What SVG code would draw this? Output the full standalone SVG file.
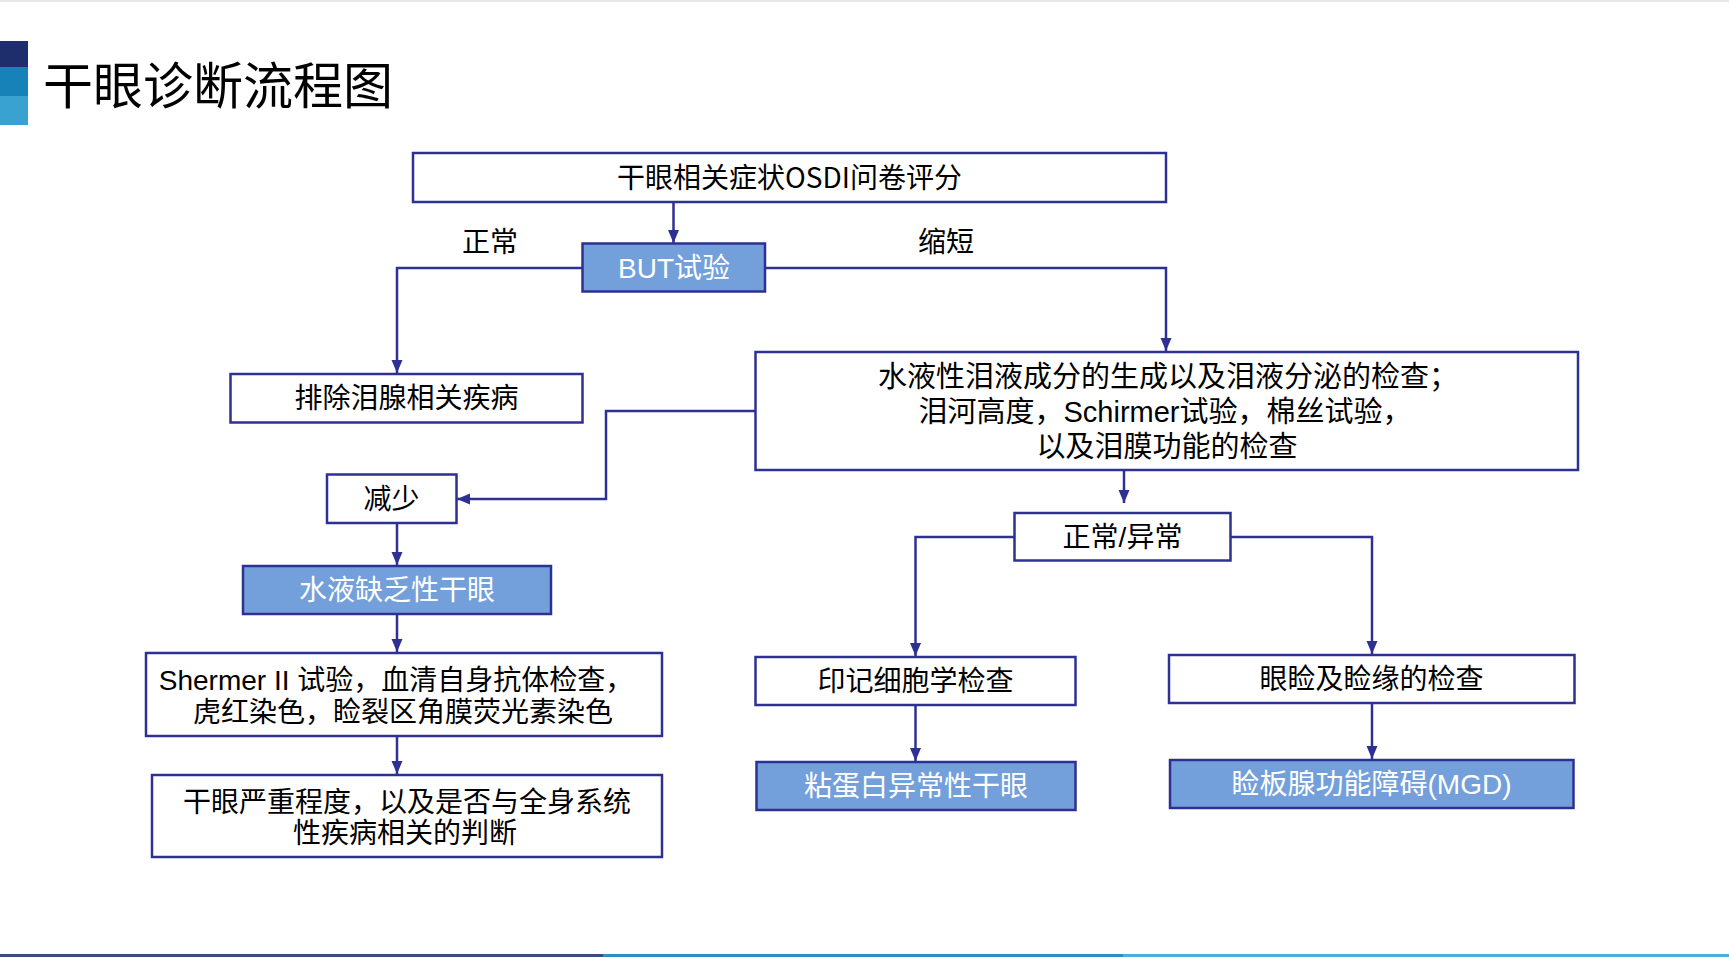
<svg xmlns="http://www.w3.org/2000/svg" width="1729" height="957" viewBox="0 0 1729 957">
<defs>
<style>
.box{fill:#ffffff;stroke:#2e3192;stroke-width:2.5}
.hl{fill:#739fdb;stroke:#2e3192;stroke-width:2.5}
.t{font-family:"Liberation Sans","Noto Sans CJK SC",sans-serif;font-size:28px;fill:#000000;text-anchor:middle}
.tc{font-family:"Noto Sans CJK SC",sans-serif;font-size:28px;fill:#000000;text-anchor:middle}
.big{font-size:29px}
.w{fill:#ffffff}
.c{fill:none;stroke:#2e3192;stroke-width:2.5}
</style>
<marker id="ah" markerUnits="userSpaceOnUse" markerWidth="14" markerHeight="14" viewBox="0 0 14 14" refX="13" refY="7" orient="auto">
<path d="M0,1.5 L13,7 L0,12.5 Z" fill="#2e3192"/>
</marker>
</defs>
<rect x="0" y="0" width="1729" height="957" fill="#ffffff"/>
<line x1="0" y1="1" x2="1729" y2="1" stroke="#e8e8e8" stroke-width="2"/>
<g id="title">
<rect x="0" y="41" width="28" height="26" fill="#1e2e6c"/>
<rect x="0" y="67" width="28" height="29" fill="#1782b8"/>
<rect x="0" y="96" width="28" height="29" fill="#3aa2d0"/>
<text x="43" y="104" font-family="Noto Sans CJK SC, sans-serif" font-size="50" fill="#000000">干眼诊断流程图</text>
</g>
<g id="footer">
<rect x="0" y="954" width="603" height="3" fill="#3b4a85"/>
<rect x="603" y="954" width="520" height="3" fill="#2b8fc0"/>
<rect x="1123" y="954" width="606" height="3" fill="#4ab0d5"/>
</g>
<g id="connectors">
<path class="c" d="M673.5,202 L673.5,243" marker-end="url(#ah)"/>
<path class="c" d="M582.5,268 L397,268 L397,373" marker-end="url(#ah)"/>
<path class="c" d="M765,268 L1166,268 L1166,351" marker-end="url(#ah)"/>
<path class="c" d="M755.5,411 L606,411 L606,499 L457,499" marker-end="url(#ah)"/>
<path class="c" d="M397,523 L397,565" marker-end="url(#ah)"/>
<path class="c" d="M397,614 L397,652" marker-end="url(#ah)"/>
<path class="c" d="M397,736 L397,774" marker-end="url(#ah)"/>
<path class="c" d="M1124,470 L1124,503" marker-end="url(#ah)"/>
<path class="c" d="M1014.5,537 L915.5,537 L915.5,656" marker-end="url(#ah)"/>
<path class="c" d="M1230.5,537 L1372,537 L1372,654" marker-end="url(#ah)"/>
<path class="c" d="M915.5,705 L915.5,761" marker-end="url(#ah)"/>
<path class="c" d="M1372,703 L1372,759" marker-end="url(#ah)"/>
</g>
<g id="labels">
<text class="tc" x="490" y="252">正常</text>
<text class="tc" x="946" y="252">缩短</text>
</g>
<g id="osdi">
<rect class="box" x="413" y="153" width="753" height="49"/>
<text class="tc" x="789.5" y="188">干眼相关症状OSDI问卷评分</text>
</g>
<g id="but">
<rect class="hl" x="582.5" y="243.5" width="182.5" height="48"/>
<text class="t w" x="674" y="277.5">BUT试验</text>
</g>
<g id="exclude">
<rect class="box" x="230.5" y="374" width="352" height="48.5"/>
<text class="tc" x="406.5" y="408">排除泪腺相关疾病</text>
</g>
<g id="tearexam">
<rect class="box" x="755.5" y="352" width="822.5" height="118"/>
<text class="t big" x="1168" y="386.5">水液性泪液成分的生成以及泪液分泌的检查；</text>
<text class="t big" x="1165" y="421.5">泪河高度，Schirmer试验，棉丝试验，</text>
<text class="t big" x="1167" y="456.5">以及泪膜功能的检查</text>
</g>
<g id="decrease">
<rect class="box" x="327" y="474.5" width="129.5" height="48.5"/>
<text class="tc" x="391.5" y="509">减少</text>
</g>
<g id="aqueous">
<rect class="hl" x="243" y="566" width="308" height="48"/>
<text class="tc w" x="397" y="600">水液缺乏性干眼</text>
</g>
<g id="shermer">
<rect class="box" x="146" y="653" width="516" height="83"/>
<text class="t" x="396" y="690">Shermer II 试验，血清自身抗体检查，</text>
<text class="t" x="403" y="722">虎红染色，睑裂区角膜荧光素染色</text>
</g>
<g id="severity">
<rect class="box" x="152" y="775" width="510" height="82"/>
<text class="t" x="407" y="812">干眼严重程度，以及是否与全身系统</text>
<text class="t" x="405" y="843">性疾病相关的判断</text>
</g>
<g id="normalabn">
<rect class="box" x="1014.5" y="513" width="216" height="47.5"/>
<text class="t" x="1122.5" y="547">正常/异常</text>
</g>
<g id="impression">
<rect class="box" x="755.5" y="657" width="320" height="48"/>
<text class="tc" x="915.5" y="691">印记细胞学检查</text>
</g>
<g id="mucin">
<rect class="hl" x="756.5" y="762" width="319" height="48"/>
<text class="tc w" x="916" y="796">粘蛋白异常性干眼</text>
</g>
<g id="eyelid">
<rect class="box" x="1169" y="655" width="405.5" height="48"/>
<text class="tc" x="1371.5" y="689">眼睑及睑缘的检查</text>
</g>
<g id="mgd">
<rect class="hl" x="1170" y="760" width="403.5" height="48"/>
<text class="t w" x="1371.5" y="794">睑板腺功能障碍(MGD)</text>
</g>
</svg>
